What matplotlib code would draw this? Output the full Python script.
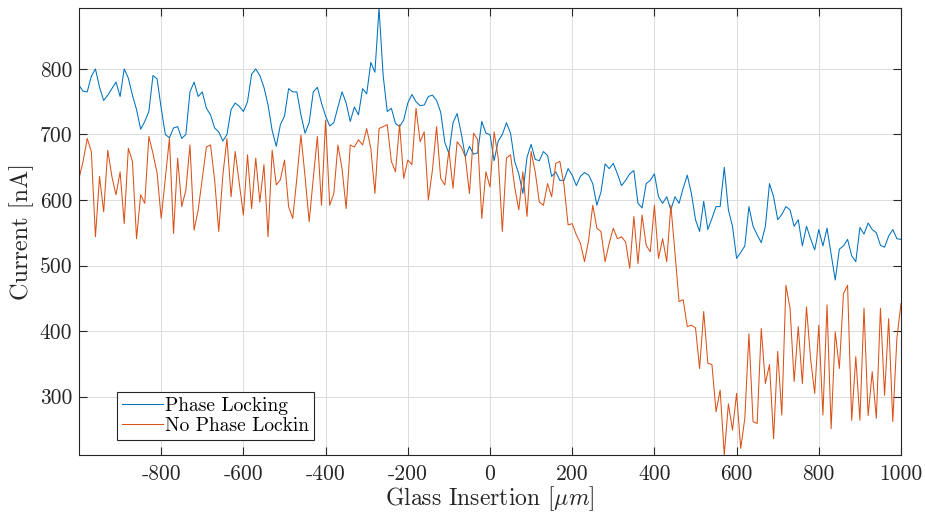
import numpy as np
import matplotlib
matplotlib.use("Agg")
import matplotlib.pyplot as plt

# x positions (glass insertion, um)
glass_insertion = np.arange(-1000, 1001, 10)

phase_locking = [
    775, 766, 765, 789, 800, 772, 752, 760, 770, 780,
    758, 800, 786, 760, 738, 708, 720, 735, 790, 785,
    740, 700, 695, 710, 712, 694, 700, 765, 780, 758,
    765, 740, 730, 710, 704, 690, 700, 738, 748, 743,
    735, 750, 792, 800, 790, 772, 745, 706, 682, 715,
    728, 770, 765, 765, 730, 702, 718, 765, 772, 748,
    728, 713, 718, 742, 765, 748, 720, 742, 730, 770,
    762, 810, 795, 893, 790, 735, 740, 717, 712, 722,
    748, 761, 750, 744, 745, 758, 760, 752, 734, 688,
    671, 718, 732, 702, 666, 682, 670, 672, 720, 702,
    700, 660, 690, 700, 718, 702, 659, 640, 610, 665,
    685, 662, 660, 674, 668, 636, 643, 630, 630, 648,
    638, 622, 636, 642, 638, 625, 592, 612, 655, 648,
    656, 640, 622, 630, 640, 645, 595, 588, 625, 630,
    640, 605, 595, 605, 585, 605, 595, 618, 638, 610,
    570, 552, 598, 555, 572, 590, 590, 650, 585, 560,
    511, 520, 530, 590, 560, 547, 535, 560, 625, 605,
    570, 578, 590, 585, 560, 570, 530, 560, 541, 524,
    555, 530, 557, 518, 478, 525, 530, 540, 515, 506,
    558, 548, 565, 555, 550, 531, 528, 545, 555, 541,
    540,
]

no_phase_locking = [
    633, 659, 694, 674, 544, 636, 582, 676, 636, 608,
    643, 564, 679, 659, 541, 608, 595, 697, 671, 641,
    572, 633, 694, 549, 664, 590, 615, 684, 554, 585,
    633, 681, 684, 631, 552, 638, 694, 605, 674, 625,
    577, 669, 587, 664, 597, 654, 544, 676, 623, 631,
    661, 590, 572, 633, 699, 636, 567, 633, 697, 592,
    722, 592, 610, 684, 648, 587, 684, 681, 692, 684,
    709, 679, 610, 709, 712, 715, 659, 643, 715, 633,
    661, 654, 740, 689, 704, 600, 646, 712, 633, 623,
    676, 618, 689, 681, 666, 610, 702, 692, 572, 643,
    620, 704, 664, 552, 664, 669, 620, 585, 643, 575,
    674, 643, 597, 592, 625, 605, 656, 659, 623, 562,
    564, 547, 534, 506, 539, 592, 557, 552, 506, 534,
    557, 541, 544, 536, 496, 575, 503, 577, 531, 521,
    592, 511, 541, 506, 592, 520, 445, 448, 407, 409,
    405, 343, 430, 351, 349, 277, 310, 211, 289, 249,
    305, 221, 267, 396, 262, 259, 404, 320, 349, 236,
    369, 272, 470, 435, 323, 407, 320, 437, 358, 305,
    409, 272, 440, 251, 399, 343, 457, 470, 264, 361,
    264, 435, 271, 338, 267, 435, 302, 419, 262, 389,
    442,
]

series_labels = ["Phase Locking", "No Phase Lockin"]
x_ticks = [-800, -600, -400, -200, 0, 200, 400, 600, 800, 1000]
y_ticks = [300, 400, 500, 600, 700, 800]

plt.rcParams["font.family"] = "serif"
plt.rcParams["font.serif"] = ["cmr10", "DejaVu Serif"]
plt.rcParams["mathtext.fontset"] = "cm"
plt.rcParams["axes.unicode_minus"] = False
plt.rcParams["axes.formatter.use_mathtext"] = True

fig = plt.figure(figsize=(9.25, 5.13), dpi=100)
ax = fig.add_axes([79 / 925, 58 / 513, 822 / 925, 447 / 513])

ax.plot(glass_insertion, phase_locking, color="#0072BD", lw=0.75, label=series_labels[0])
ax.plot(glass_insertion, no_phase_locking, color="#D95319", lw=0.75, label=series_labels[1])

ax.set_xlim(-1000, 1000)
all_vals = phase_locking + no_phase_locking
ax.set_ylim(min(all_vals), max(all_vals))
ax.set_xticks(x_ticks)
ax.set_xticklabels([str(v) for v in x_ticks])
ax.set_yticks(y_ticks)
ax.set_yticklabels([str(v) for v in y_ticks])

ax.grid(True, color="#dcdcdc", lw=0.7)
ax.set_axisbelow(True)
for s in ax.spines.values():
    s.set_color("#262626")
    s.set_linewidth(0.8)
ax.tick_params(direction="in", length=6, width=0.8, color="#262626",
               top=True, right=True, labelsize=15.5, labelcolor="#262626")
ax.tick_params(axis="x", pad=7)
ax.tick_params(axis="y", pad=5)

ax.set_xlabel(r"Glass Insertion [$\mu m$]", fontsize=17, color="#262626", labelpad=0)
ax.set_ylabel("Current [nA]", fontsize=17.5, color="#262626", labelpad=4)

leg = ax.legend(loc="lower left", bbox_to_anchor=(0.046, 0.034), borderaxespad=0,
                fontsize=14, frameon=True, fancybox=False, handlelength=2.1,
                handletextpad=0.15, borderpad=0.25, labelspacing=0.1)
leg.get_frame().set_edgecolor("#262626")
leg.get_frame().set_linewidth(0.8)
leg.get_frame().set_alpha(1)

fig.savefig("out.png", dpi=100)
